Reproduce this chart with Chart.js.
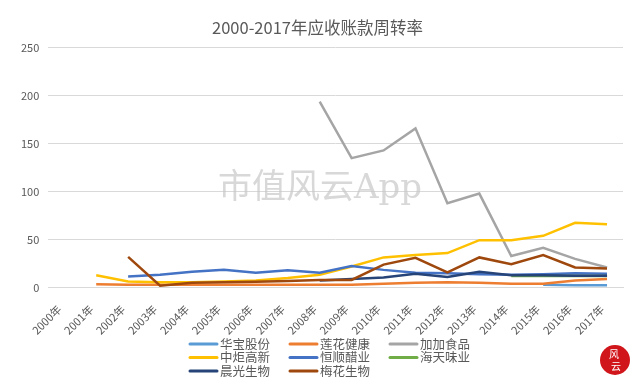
<!DOCTYPE html>
<html>
<head>
<meta charset="utf-8">
<title>2000-2017年应收账款周转率</title>
<script src="https://cdn.jsdelivr.net/npm/chart.js@4/dist/chart.umd.min.js"></script>
<style>
  html, body { margin: 0; padding: 0; background: #fff; }
  #wrap { position: relative; width: 642px; height: 388px; }
</style>
<script>
    var years = ['2000年', '2001年', '2002年', '2003年', '2004年', '2005年', '2006年', '2007年', '2008年',
                 '2009年', '2010年', '2011年', '2012年', '2013年', '2014年', '2015年', '2016年', '2017年'];

    var huabao   = [null, null, null, null, null, null, null, null, null, null, null, null, null, null, null, 3, 2.5, 2.5];
    var lianhua  = [null, 3.5, 3, 3, 3, 3, 3, 3, 3, 3, 4, 5, 5.5, 5, 4, 4, 7.5, 9];
    var jiajia   = [null, null, null, null, null, null, null, null, 194, 135, 143, 166, 88, 98, 33, 41.5, 30, 21];
    var zhongju  = [null, 13, 6.5, 5.5, 5.5, 6.5, 7.5, 10, 13.5, 22, 31.5, 34, 36, 49.5, 49.5, 54, 67.5, 66];
    var hengshun = [null, null, 11.5, 13.5, 16.5, 18.5, 15.5, 18, 15.5, 22.5, 18.5, 15.5, 15, 14, 13.5, 14, 15, 14.5];
    var haitian  = [null, null, null, null, null, null, null, null, null, null, null, null, null, null, 12, 12, 12, 12];
    var chenguang= [null, null, null, null, null, null, null, null, 7.5, 9, 10.5, 14.5, 11, 16.5, 13, 13, 12.5, 12.5];
    var meihua   = [null, null, 32, 2, 5, 5.5, 6, 7, 8, 8, 24, 31, 16, 31.5, 24.5, 34, 21, 20];

    var seriesNames  = ['华宝股份', '莲花健康', '加加食品', '中炬高新', '恒顺醋业', '海天味业', '晨光生物', '梅花生物'];
    var seriesData   = [huabao, lianhua, jiajia, zhongju, hengshun, haitian, chenguang, meihua];
    var seriesColors = ['#5B9BD5', '#ED7D31', '#A5A5A5', '#FFC000', '#4472C4', '#70AD47', '#264478', '#9E480E'];

    // watermark, logo and the 3-column legend, drawn on the canvas
    var decorPlugin = {
        id: 'decor',
        beforeDatasetsDraw: function(chart) {
            var ctx = chart.ctx;
            ctx.save();
            ctx.fillStyle = 'rgba(200,200,200,0.7)';
            ctx.font = '34px "DejaVu Serif", "Noto Sans CJK SC", serif';
            ctx.textAlign = 'center';
            ctx.textBaseline = 'middle';
            ctx.fillText('市值风云App', 320, 189);
            ctx.restore();
        },
        afterDraw: function(chart) {
            var ctx = chart.ctx;
            ctx.save();
            ctx.font = '12.5px "Noto Sans CJK SC", sans-serif';
            ctx.textBaseline = 'middle';
            chart.data.datasets.forEach(function(ds, i) {
                var col = i % 3, row = Math.floor(i / 3);
                var x = 190 + col * 100, y = 344 + row * 13.5;
                ctx.strokeStyle = ds.borderColor;
                ctx.lineWidth = 3;
                ctx.lineCap = 'round';
                ctx.beginPath();
                ctx.moveTo(x, y);
                ctx.lineTo(x + 27, y);
                ctx.stroke();
                ctx.fillStyle = '#595959';
                ctx.fillText(ds.label, x + 30, y);
            });
            // logo
            ctx.fillStyle = '#D0151B';
            ctx.beginPath();
            ctx.arc(615, 360, 15, 0, Math.PI * 2);
            ctx.fill();
            ctx.fillStyle = '#fff';
            ctx.font = '10px "Noto Sans CJK SC", sans-serif';
            ctx.textAlign = 'center';
            ctx.fillText('风', 614, 354);
            ctx.fillText('云', 616, 366);
            ctx.restore();
        }
    };

    function start() {
        var datasets = seriesNames.map(function(name, i) {
            return {
                label: name,
                data: seriesData[i],
                borderColor: seriesColors[i],
                backgroundColor: seriesColors[i],
                borderWidth: 2.5,
                pointRadius: 0,
                tension: 0,
                spanGaps: false,
                order: seriesNames.length - i
            };
        });

        new Chart(document.getElementById('chart'), {
            type: 'line',
            data: { labels: years, datasets: datasets },
            plugins: [decorPlugin],
            options: {
                responsive: false,
                animation: false,
                layout: { padding: { left: 12, right: 19, top: 4, bottom: 44 } },
                plugins: {
                    legend: { display: false },
                    tooltip: { enabled: false },
                    title: {
                        display: true,
                        text: '2000-2017年应收账款周转率',
                        color: '#595959',
                        font: { size: 16.5, family: '"Noto Sans CJK SC", sans-serif', weight: 'normal' },
                        padding: { top: 14, bottom: 10 }
                    }
                },
                scales: {
                    x: {
                        offset: true,
                        grid: { display: false },
                        border: { color: '#D9D9D9' },
                        ticks: {
                            minRotation: 45, maxRotation: 45,
                            color: '#595959',
                            font: { size: 11, family: '"Noto Sans CJK SC", sans-serif' },
                            padding: 7,
                            labelOffset: -5
                        }
                    },
                    y: {
                        min: 0, max: 250,
                        border: { display: false },
                        grid: { color: '#D9D9D9', drawTicks: false },
                        ticks: {
                            stepSize: 50,
                            color: '#595959',
                            font: { size: 11, family: '"Noto Sans CJK SC", sans-serif' },
                            padding: 9
                        }
                    }
                }
            }
        });
    }
</script>
</head>
<body onload="start()">
<div id="wrap">
  <canvas id="chart" width="642" height="388"></canvas>
</div>
</body>
</html>
